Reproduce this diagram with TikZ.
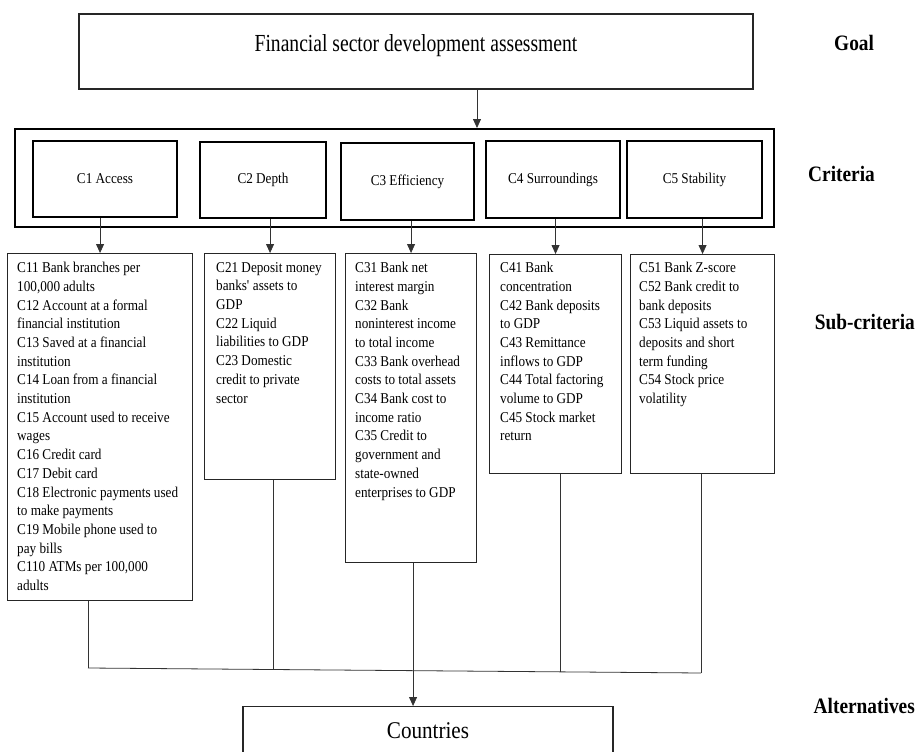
\documentclass[tikz,border=0pt]{standalone}
\usepackage{fontspec}
\setmainfont{Liberation Serif}[FakeStretch=0.88]
\newfontfamily\narrowserif{Liberation Serif}[FakeStretch=0.8]
\usetikzlibrary{arrows.meta}

\tikzset{
  plainbox/.style={draw=black!85, line width=1.1pt, inner sep=0pt},
  critbox/.style={draw, line width=2pt, inner sep=0pt, font=\fontsize{15}{18}\selectfont},
  subtext/.style={anchor=north west, align=left, inner sep=0pt, font=\fontsize{15}{18.7}\selectfont},
  tiername/.style={inner sep=0pt, font=\fontsize{22}{26}\selectfont\bfseries},
  link/.style={draw=black!80, line width=0.8pt},
  arr/.style={link, -{Triangle[width=8pt,length=9pt]}},
}

\begin{document}
\begin{tikzpicture}[x=1pt,y=-1pt]
    \path[use as bounding box] (0,0) rectangle (916,752);
    \clip (0,0) rectangle (916,752);

    % goal
    \node[plainbox, minimum width=674pt, minimum height=75pt] (goal) at (416,51.5) {};
    \node[anchor=base, inner sep=0pt, font=\narrowserif\fontsize{24.5}{28}\selectfont] (goaltxt) at (416,52) {Financial sector development assessment};

    % criteria
    \node[critbox, minimum width=759pt, minimum height=98pt] (crit) at (394.5,178) {};
    \node[critbox, minimum width=144pt, minimum height=76pt] (c1) at (105,179) {C1 Access};
    \node[critbox, minimum width=126pt, minimum height=76pt] (c2) at (263,180) {C2 Depth};
    \node[critbox, minimum width=133pt, minimum height=77pt] (c3) at (407.5,181.5) {C3 Efficiency};
    \node[critbox, minimum width=134pt, minimum height=77pt] (c4) at (553,179.5) {C4 Surroundings};
    \node[critbox, minimum width=135pt, minimum height=77pt] (c5) at (694.5,179.5) {C5 Stability};

    % sub-criteria
    \node[plainbox, anchor=north west, minimum width=185pt, minimum height=347pt] (s1) at (7,253) {};
    \node[plainbox, anchor=north west, minimum width=131pt, minimum height=226pt] (s2) at (204,253) {};
    \node[plainbox, anchor=north west, minimum width=131pt, minimum height=309pt] (s3) at (345,253) {};
    \node[plainbox, anchor=north west, minimum width=132pt, minimum height=219pt] (s4) at (489,254) {};
    \node[plainbox, anchor=north west, minimum width=144pt, minimum height=219pt] (s5) at (630,254) {};

    \node[subtext] (t1) at ([shift={(10,9)}]s1.north west) {C11 Bank branches per\\100,000 adults\\C12 Account at a formal\\financial institution\\C13 Saved at a financial\\institution\\C14 Loan from a financial\\institution\\C15 Account used to receive\\wages\\C16 Credit card\\C17 Debit card\\C18 Electronic payments used\\to make payments\\C19 Mobile phone used to\\pay bills\\C110 ATMs per 100,000\\adults};
    \node[subtext] (t2) at ([shift={(12,9)}]s2.north west) {C21 Deposit money\\banks\textquotesingle{} assets to\\GDP\\C22 Liquid\\liabilities to GDP\\C23 Domestic\\credit to private\\sector};
    \node[subtext] (t3) at ([shift={(10,9)}]s3.north west) {C31 Bank net\\interest margin\\C32 Bank\\noninterest income\\to total income\\C33 Bank overhead\\costs to total assets\\C34 Bank cost to\\income ratio\\C35 Credit to\\government and\\state-owned\\enterprises to GDP};
    \node[subtext] (t4) at ([shift={(11,8)}]s4.north west) {C41 Bank\\concentration\\C42 Bank deposits\\to GDP\\C43 Remittance\\inflows to GDP\\C44 Total factoring\\volume to GDP\\C45 Stock market\\return};
    \node[subtext] (t5) at ([shift={(9,8)}]s5.north west) {C51 Bank Z-score\\C52 Bank credit to\\bank deposits\\C53 Liquid assets to\\deposits and short\\term funding\\C54 Stock price\\volatility};

    % alternatives
    \node[plainbox, anchor=north, minimum width=370pt, minimum height=60pt] (cty) at (428,706) {};
    \node[anchor=base, inner sep=0pt, font=\fontsize{24}{28}\selectfont] (ctytxt) at (428,738) {Countries};

    % level names
    \node[tiername, anchor=base west] (lgoal) at (834,51) {Goal};
    \node[tiername, anchor=base west] (lcrit) at (808,181) {Criteria};
    \node[tiername, anchor=base east] (lsub) at (915,329) {Sub-criteria};
    \node[tiername, anchor=base east] (lalt) at (915,713) {Alternatives};

    % connectors
    \draw[arr] ([xshift=61pt]goal.south) -- ([xshift=61pt]goal.south |- crit.north);
    \foreach \i in {1,...,5}
        \draw[arr] (c\i.south -| s\i.north) -- (s\i.north);

    \coordinate (b1) at (88,668);
    \coordinate (b2) at (273,670);
    \coordinate (b4) at (560,672);
    \coordinate (b5) at (701,673);
    \draw[link] (b1) -- (b5);
    \foreach \i in {1,2,4,5}
        \draw[link] (s\i.south -| b\i) -- (b\i);
    \draw[arr] ([xshift=2pt]s3.south) -- ([xshift=2pt]s3.south |- cty.north);
\end{tikzpicture}
\end{document}
